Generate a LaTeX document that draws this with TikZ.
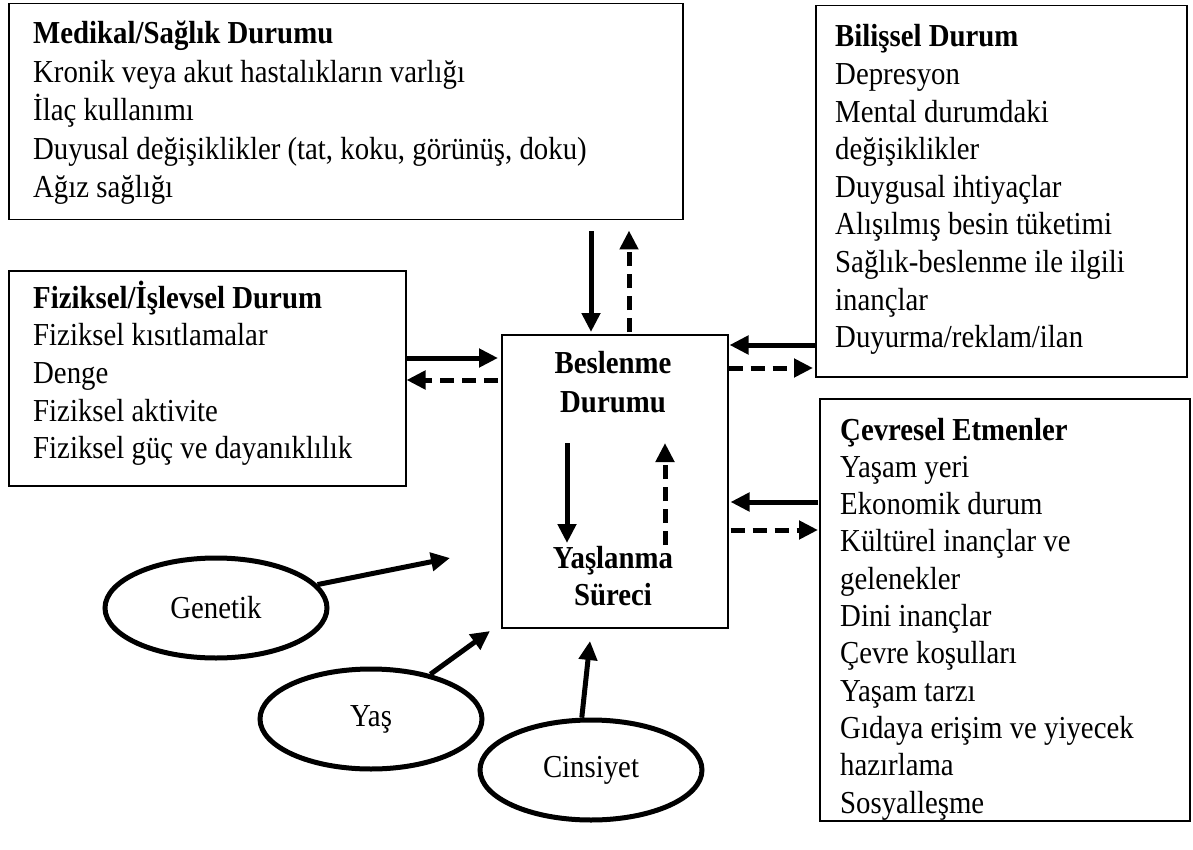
\documentclass[tikz,border=0pt]{standalone}
\usepackage{fontspec}
\setmainfont{Liberation Serif}[FakeStretch=0.9]
\usetikzlibrary{arrows.meta,shapes.geometric}
\begin{document}
\begin{tikzpicture}[x=1pt,y=-1pt,
  box/.style={draw, line width=1.5pt, inner sep=0pt, anchor=north west},
  txt/.style={anchor=base west, inner sep=0pt, font=\fontsize{32}{38}\selectfont},
  ctxt/.style={anchor=base, inner sep=0pt, font=\fontsize{32}{38}\selectfont\bfseries},
  oval/.style={draw, ellipse, line width=5pt, inner sep=0pt, minimum width=222pt, minimum height=100pt, font=\fontsize{32}{38}\selectfont},
  arr/.style={line width=5pt, -{Triangle[length=19pt,width=18pt]}},
  darr/.style={arr, dash pattern=on 14pt off 8pt},
]
\useasboundingbox (0,0) rectangle (1193,850);

% boxes
\node[box, minimum width=674pt, minimum height=216pt] (med) at (8,3) {};
\node[box, minimum width=371pt, minimum height=371pt] (bil) at (815,5) {};
\node[box, minimum width=397pt, minimum height=215pt] (fiz) at (8,270) {};
\node[box, minimum width=226pt, minimum height=293pt] (cen) at (501,334) {};
\node[box, minimum width=370pt, minimum height=422pt] (cev) at (819,398) {};

% box texts
\foreach \t [count=\i] in {\textbf{Medikal/Sağlık Durumu}, Kronik veya akut hastalıkların varlığı, İlaç kullanımı, {Duyusal değişiklikler (tat, koku, görünüş, doku)}, Ağız sağlığı}
  \node[txt] (medt\i) at (33,{44+38.5*(\i-1)}) {\t};
\foreach \t [count=\i] in {\textbf{Bilişsel Durum}, Depresyon, Mental durumdaki, değişiklikler, Duygusal ihtiyaçlar, Alışılmış besin tüketimi, Sağlık-beslenme ile ilgili, inançlar, Duyurma/reklam/ilan}
  \node[txt] (bilt\i) at (835,{47+37.6*(\i-1)}) {\t};
\foreach \t [count=\i] in {\textbf{Fiziksel/İşlevsel Durum}, Fiziksel kısıtlamalar, Denge, Fiziksel aktivite, Fiziksel güç ve dayanıklılık}
  \node[txt] (fizt\i) at (33,{308+37.7*(\i-1)}) {\t};
\foreach \t [count=\i] in {\textbf{Çevresel Etmenler}, Yaşam yeri, Ekonomik durum, Kültürel inançlar ve, gelenekler, Dini inançlar, Çevre koşulları, Yaşam tarzı, Gıdaya erişim ve yiyecek, hazırlama, Sosyalleşme}
  \node[txt] (cevt\i) at (840,{440+37.3*(\i-1)}) {\t};

% central texts
\node[ctxt] (bes) at (613,373) {Beslenme};
\node[ctxt] (dur) at (613,412) {Durumu};
\node[ctxt] (yasl) at (613,568) {Yaşlanma};
\node[ctxt] (sur) at (613,605) {Süreci};

% ellipses
\node[oval] (gen) at (216,608) {Genetik};
\node[oval] (yas) at (371,719) {Yaş};
\node[oval] (cin) at (591,770) {Cinsiyet};

% helper coordinates
\coordinate (xa) at (591,0);
\coordinate (xb) at (629,0);
\coordinate (ya) at (0,358);
\coordinate (yb) at (0,380);
\coordinate (yc) at (0,345);
\coordinate (yd) at (0,368);
\coordinate (ye) at (0,502);
\coordinate (yf) at (0,530);
\coordinate (ia) at (567,443);
\coordinate (ib) at (567,543);
\coordinate (ic) at (665,545);
\coordinate (id) at (665,443);
\coordinate (ge) at (450,558);
\coordinate (ye2) at (490,631);
\coordinate (ce) at (590,641);

% connectors
\draw[arr, shorten <=11pt, shorten >=2pt] (med.south -| xa) -- (cen.north -| xa);
\draw[darr, shorten <=2pt, shorten >=10pt] (cen.north -| xb) -- (med.south -| xb);
\draw[arr, shorten >=3pt] (fiz.east |- ya) -- (cen.west |- ya);
\draw[darr, shorten <=3pt] (cen.west |- yb) -- (fiz.east |- yb);
\draw[arr, shorten >=1pt] (bil.west |- yc) -- (cen.east |- yc);
\draw[darr, shorten >=2pt] (cen.east |- yd) -- (bil.west |- yd);
\draw[arr, shorten <=1pt, shorten >=2pt] (cev.west |- ye) -- (cen.east |- ye);
\draw[darr, shorten <=2pt, shorten >=1pt] (cen.east |- yf) -- (cev.west |- yf);
\draw[arr] (ia) -- (ib);
\draw[darr] (ic) -- (id);
\draw[arr] (gen.13) -- (ge);
\draw[arr] (yas.37) -- (ye2);
\draw[arr] (cin.100) -- (ce);
\end{tikzpicture}
\end{document}
